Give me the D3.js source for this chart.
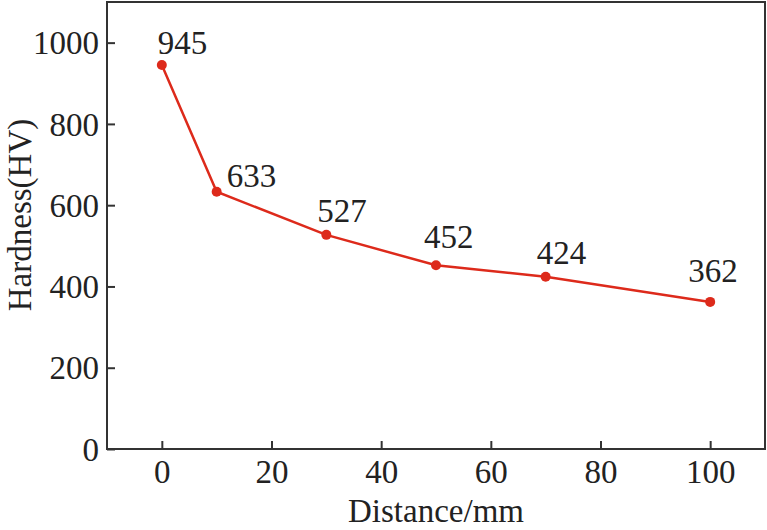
<!DOCTYPE html>
<html><head><meta charset="utf-8">
<script src="https://cdn.jsdelivr.net/npm/d3@7"></script>
<style>
html,body{margin:0;padding:0;background:#fff;overflow:hidden}
svg text{font-family:"Liberation Serif","Tinos","Times New Roman","DejaVu Serif",serif !important;fill:#222}
</style></head>
<body>
<svg id="c" width="767" height="530"></svg>
<script>
const distances = [0, 10, 30, 50, 70, 100];
const hardness = [945, 633, 527, 452, 424, 362];
const xTicks = [0, 20, 40, 60, 80, 100];
const yTicks = [0, 200, 400, 600, 800, 1000];
const xTitle = "Distance/mm";
const yTitle = "Hardness(HV)";
// label placement (layout only)
const labelDx = [-4, 10, -9, -12, -9, -22];
const labelDy = [-11, -5, -13, -17, -13, -20];

const svg = d3.select("#c");
const L = 107, R = 765, T = 2, B = 449;
const x = d3.scaleLinear().domain([-10, 110]).range([L, R]);
const y = d3.scaleLinear().domain([0, 1100]).range([B, T]);
const axisColor = "#333";
const red = "#dd2a1b";
const fs = 33;

svg.append("rect").attr("x", L).attr("y", T).attr("width", R - L).attr("height", B - T)
  .attr("fill", "none").attr("stroke", axisColor).attr("stroke-width", 2);

const gx = svg.append("g").attr("transform", `translate(0,${B})`)
  .call(d3.axisBottom(x).tickValues(xTicks).tickFormat(d3.format("d")).tickSizeInner(-8).tickSizeOuter(0).tickPadding(11));
gx.select(".domain").remove();
gx.attr("font-family", null);
gx.selectAll("line").attr("stroke", axisColor).attr("stroke-width", 2);
gx.selectAll("text").attr("font-size", fs).attr("fill", "#222").attr("dy", "0.71em");

const gy = svg.append("g").attr("transform", `translate(${L},0)`)
  .call(d3.axisLeft(y).tickValues(yTicks).tickFormat(d3.format("d")).tickSizeInner(-8).tickSizeOuter(0).tickPadding(8));
gy.select(".domain").remove();
gy.attr("font-family", null);
gy.selectAll("line").attr("stroke", axisColor).attr("stroke-width", 2);
gy.selectAll("text").attr("font-size", fs).attr("fill", "#222").attr("dy", "0.34em");

svg.append("text").attr("x", (L + R) / 2).attr("y", 522).attr("text-anchor", "middle")
  .attr("font-size", 33).text(xTitle);
svg.append("text").attr("transform", "translate(31,215) rotate(-90)").attr("text-anchor", "middle")
  .attr("font-size", 33).text(yTitle);

const pts = distances.map((d, i) => ({d, h: hardness[i], i}));

svg.append("path").datum(pts)
  .attr("d", d3.line().x(p => x(p.d)).y(p => y(p.h)))
  .attr("fill", "none").attr("stroke", red).attr("stroke-width", 2.5);

svg.selectAll("circle.pt").data(pts).join("circle")
  .attr("cx", p => x(p.d)).attr("cy", p => y(p.h)).attr("r", 5).attr("fill", red);

svg.selectAll("text.lab").data(pts).join("text").attr("class", "lab")
  .attr("x", p => x(p.d) + labelDx[p.i]).attr("y", p => y(p.h) + labelDy[p.i])
  .attr("font-size", fs).text(p => p.h);
</script>
</body></html>
